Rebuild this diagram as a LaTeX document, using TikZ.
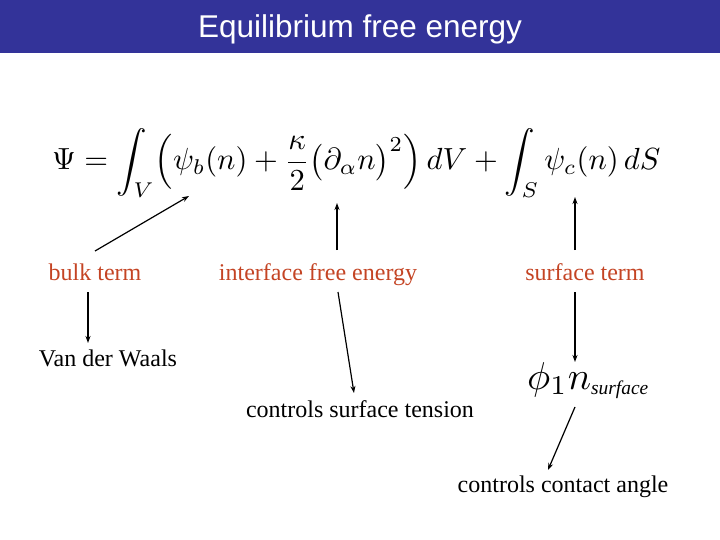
\documentclass[tikz,border=0pt]{standalone}
\usepackage{fontspec}
\setmainfont{Liberation Serif}
\newfontfamily\titlefont{Liberation Sans}
\usetikzlibrary{arrows.meta}
\definecolor{barblue}{RGB}{51,51,153}
\definecolor{termred}{RGB}{196,68,36}
\tikzset{
  lbl/.style={font=\fontsize{24}{28}\selectfont, inner sep=0pt, anchor=base},
  redlbl/.style={lbl, text=termred},
  arr/.style={-{Stealth[length=7pt,width=5pt]}, line width=1.2pt}
}
\begin{document}
\begin{tikzpicture}[x=1pt,y=-1pt]
\useasboundingbox (0,0) rectangle (720,540);
\fill[barblue] (0,0) rectangle (720,53);
\node[text=white, font=\titlefont\fontsize{31.5}{34}\selectfont, inner sep=0pt] (title) at (360,29) {Equilibrium free energy};
\node[anchor=west, inner sep=0pt] (eq) at (52,163) {\resizebox{608pt}{!}{$\Psi=\displaystyle\int_V\Bigl(\psi_b(n)+\frac{\kappa}{2}\bigl(\partial_\alpha n\bigr)^2\Bigr)\,dV+\int_S\psi_c(n)\,dS$}};
\coordinate (bulkpt) at (189,196);
\coordinate (intpt) at (337,203);
\coordinate (surfpt) at (575,197);
\node[redlbl] (bulk) at (95,280) {bulk term};
\node[redlbl] (inter) at (318,280) {interface free energy};
\node[redlbl] (surf) at (585,280) {surface term};
\node[lbl] (vdw) at (108,366) {Van der Waals};
\node[lbl] (tension) at (360,417) {controls surface tension};
\node[lbl] (angle) at (563,492) {controls contact angle};
\node[inner sep=0pt, anchor=base west] (phin) at (527,389) {\resizebox{123pt}{!}{$\phi_{1}n_{\scriptscriptstyle\mathit{surface}}$}};
\coordinate (phintop) at (575,362);
\coordinate (phinbot) at (575,407);
\draw[arr] ([shift={(0,-29)}]bulk.base) -- (bulkpt);
\draw[arr] ([shift={(19,-30)}]inter.base) -- (intpt);
\draw[arr] ([shift={(-10,-30)}]surf.base) -- (surfpt);
\draw[arr] ([shift={(-7,12)}]bulk.base) -- ([shift={(-20,-23)}]vdw.base);
\draw[arr] ([shift={(20,12)}]inter.base) -- ([shift={(-6,-24)}]tension.base);
\draw[arr] ([shift={(-10,12)}]surf.base) -- (phintop);
\draw[arr] (phinbot) -- ([shift={(-15,-22)}]angle.base);
\end{tikzpicture}
\end{document}
